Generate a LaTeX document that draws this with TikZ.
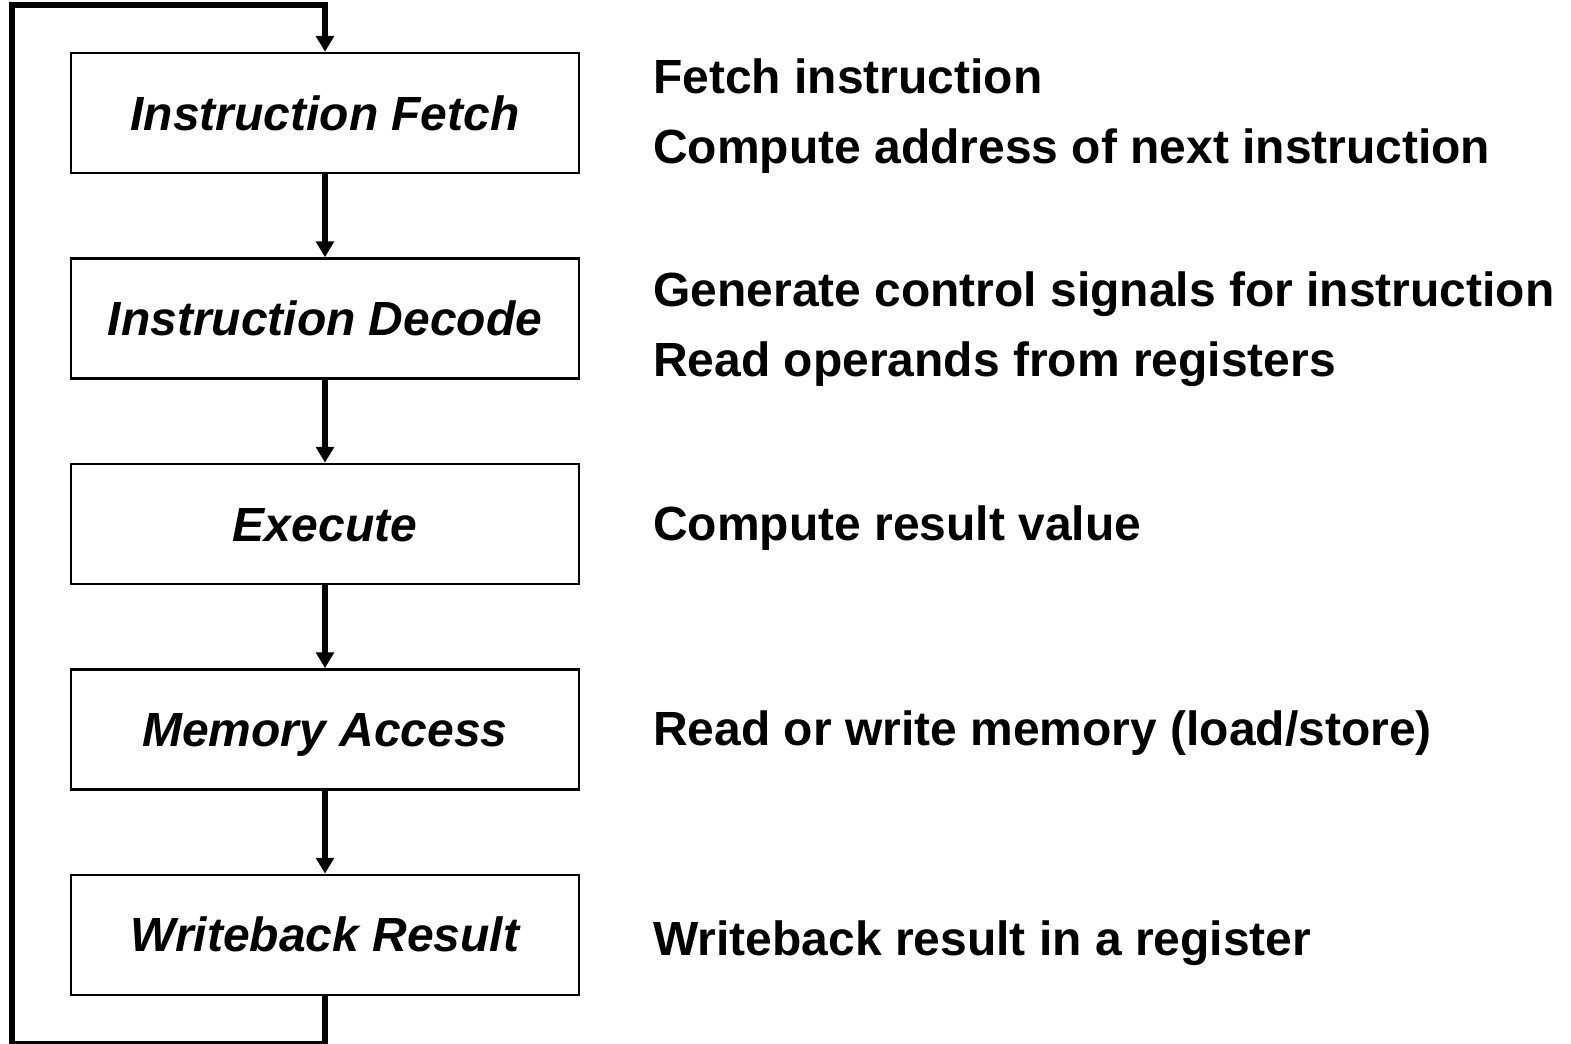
\documentclass[tikz,border=0pt]{standalone}
\usepackage{fontspec}
\setmainfont{Liberation Sans}
\usetikzlibrary{arrows.meta,positioning}
\tikzset{
Etape/.style={
 draw=black,
 line width=1.4pt,
 minimum width=10.16cm,
 minimum height=2.4cm,
 inner sep=0pt,
 text height=19.5pt,
 text depth=0pt,
 font=\fontsize{27.3}{39}\selectfont\bfseries\itshape
 },
Texte/.style={
 anchor=base west,
 align=left,
 inner sep=0pt,
 font=\fontsize{27.3}{39.3}\selectfont\bfseries
 },
Fleche/.style={
 draw=black,
 line width=2.9pt,
 -{Triangle[width=10pt,length=9pt]}
 }
}

\begin{document}
\begin{tikzpicture}[node distance=1.66cm]
\useasboundingbox (0,0) rectangle (31.42,-20.86);
\node[Etape] (fetch) at (6.5,-2.26) {Instruction Fetch};
\node[Etape,below=of fetch] (decode) {Instruction Decode};
\node[Etape,below=of decode] (execute) {Execute};
\node[Etape,below=of execute] (memory) {Memory Access};
\node[Etape,below=of memory] (writeback) {Writeback Result};
\draw[Fleche] (fetch) -- (decode);
\draw[Fleche] (decode) -- (execute);
\draw[Fleche] (execute) -- (memory);
\draw[Fleche] (memory) -- (writeback);
% retour vers le fetch
\coordinate (coinbas) at (0.24,-20.88);
\coordinate (coinhaut) at (6.5,-0.1);
\draw[Fleche] (writeback.south) |- (coinbas) |- (coinhaut) -- (fetch.north);
\node[Texte] (tfetch) at (13.06,-3.26) {Fetch instruction\\Compute address of next instruction};
\node[Texte] (tdecode) at (13.06,-7.52) {Generate control signals for instruction\\Read operands from registers};
\node[Texte] (texecute) at (13.06,-10.8) {Compute result value};
\node[Texte] (tmemory) at (13.06,-14.9) {Read or write memory (load/store)};
\node[Texte] (twriteback) at (13.06,-19.1) {Writeback result in a register};
\end{tikzpicture}
\end{document}
